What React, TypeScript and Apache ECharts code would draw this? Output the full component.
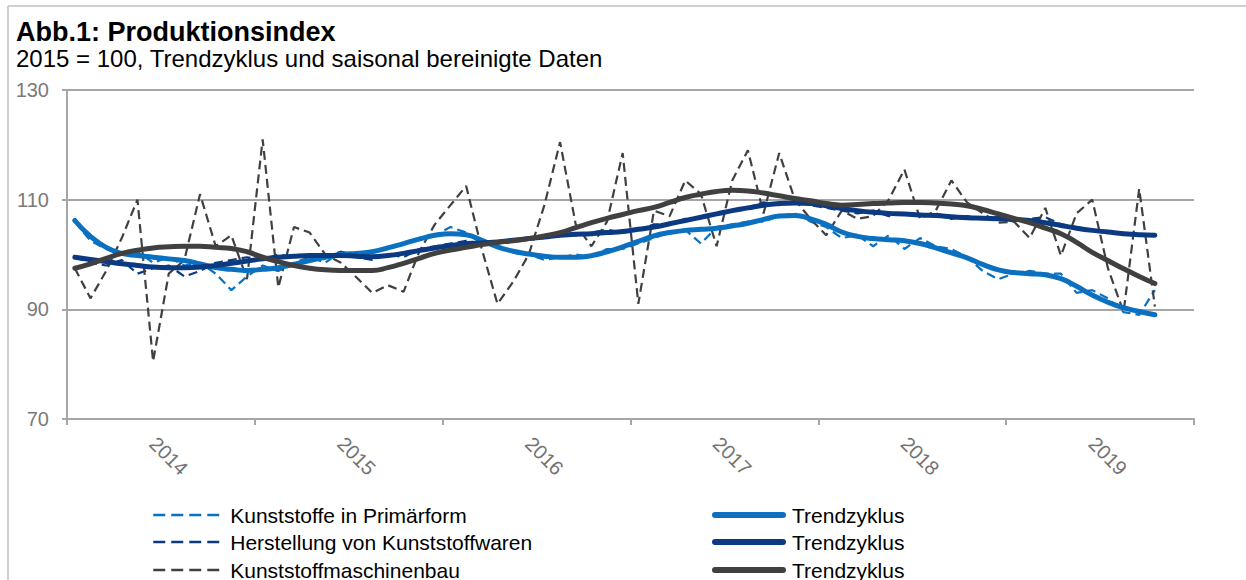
import React, { useEffect, useRef } from "react";
import * as echarts from "echarts";

const years = ["2014", "2015", "2016", "2017", "2018", "2019"];
const monthNums = ["01", "02", "03", "04", "05", "06", "07", "08", "09", "10", "11", "12"];
const months: string[] = [];
years.forEach((y) => monthNums.forEach((m) => months.push(`${y}-${m}`)));

const yTicks = { min: 70, max: 130, interval: 20 };

// Kunststoffe in Primärform (saisonal bereinigt)
const primaer = [
  106, 102.5, 101, 100, 100.5, 98.5, 99.5, 98, 98.5, 96.5, 93.5, 96,
  98, 97, 98.5, 99.5, 98.5, 100.5, 100, 100.5, 101, 102, 103, 103.5,
  105, 104, 102, 101.5, 100.5, 100, 99, 99.5, 100, 99.5, 101, 101,
  102, 103, 104, 104.5, 102, 105, 105.5, 106, 106, 107, 107.5, 106,
  105, 103, 103.5, 101.5, 103.5, 101, 103, 101.5, 101, 99.5, 97, 95.5,
  96.5, 97, 96.5, 96.5, 93, 93.5, 92, 89.5, 89, 93.5,
];
// Herstellung von Kunststoffwaren (saisonal bereinigt)
const herstellung = [
  99.5, 98.5, 98, 99, 96.5, 97.5, 98, 96, 97, 98.5, 99, 99.5,
  99, 100, 99.5, 100, 99.5, 100.5, 99.5, 99, 100, 99.5, 101, 101.5,
  102, 102.5, 102, 102.5, 102.5, 103, 103, 104, 103.5, 104, 104.5, 104,
  104.5, 105.5, 105.5, 106.5, 106.5, 107.5, 108, 108.5, 109.5, 109, 109.8, 109,
  108.5, 108, 107.5, 108, 107, 107.5, 107, 107.5, 106.5, 107, 106.5, 106.8,
  106, 106.5, 106.8, 105.5, 105, 104.5, 104, 104, 103.5, 103.5,
];
// Kunststoffmaschinenbau (saisonal bereinigt)
const maschinenbau = [
  97.5, 92, 97, 103, 110, 80.5, 96.5, 99, 111, 101.5, 103.5, 95.5,
  121, 94, 105, 104, 100, 98.5, 95.8, 93, 94.4, 93.2, 100.5, 105.5,
  109, 112.5, 101, 91, 95, 100, 109, 120.5, 105.5, 101.5, 106, 118.5,
  91, 108, 107, 113.5, 111, 101.5, 113.5, 119, 107.5, 118.5, 110, 106.5,
  103.5, 108, 106.5, 107, 110, 115.5, 106.5, 108, 113.5, 109.5, 107.5, 105.8,
  106, 103, 108.5, 99.8, 107.5, 110, 97.5, 89.5, 112, 90.5,
];
// Trendzyklen
const primaerTrend = [
  106.2, 103.3, 101.3, 100.2, 99.8, 99.5, 99.2, 98.9, 98.3, 97.6, 97.3, 97.1,
  97.3, 97.6, 98.2, 98.9, 99.5, 100.0, 100.2, 100.5, 101.2, 102.0, 102.8, 103.5,
  103.8, 103.6, 102.6, 101.4, 100.6, 100.1, 99.7, 99.5, 99.5, 99.8, 100.5, 101.4,
  102.4, 103.4, 104.0, 104.4, 104.6, 104.8, 105.2, 105.7, 106.4, 107.0, 107.1, 106.5,
  105.5, 104.1, 103.3, 102.9, 102.7, 102.5, 102.0, 101.2, 100.3, 99.4, 98.2, 97.2,
  96.7, 96.5, 96.3, 95.6, 94.2, 92.6, 91.3, 90.3, 89.6, 89.0,
];
const herstellungTrend = [
  99.5, 99.1, 98.7, 98.3, 98.0, 97.7, 97.6, 97.6, 97.7, 98.0, 98.4, 98.8,
  99.2, 99.5, 99.7, 99.8, 99.8, 99.8, 99.7, 99.6, 99.8, 100.2, 100.7, 101.2,
  101.6, 102.0, 102.1, 102.3, 102.6, 102.9, 103.2, 103.5, 103.7, 103.8, 104.0, 104.2,
  104.6, 105.0, 105.6, 106.2, 106.8, 107.4, 108.0, 108.5, 109.0, 109.3, 109.4, 109.3,
  108.9, 108.4, 108.0, 107.7, 107.5, 107.4, 107.2, 107.1, 106.9, 106.7, 106.6, 106.5,
  106.4, 106.2, 105.8, 105.3, 104.8, 104.4, 104.1, 103.8, 103.6, 103.5,
];
const maschinenbauTrend = [
  97.5, 98.3, 99.3, 100.2, 100.8, 101.2, 101.4, 101.5, 101.5, 101.3, 101.1, 100.5,
  99.5, 98.7, 98.0, 97.5, 97.2, 97.1, 97.1, 97.1, 97.6, 98.4, 99.3, 100.2,
  100.8, 101.3, 101.8, 102.2, 102.5, 102.9, 103.4, 104.0, 104.9, 105.8, 106.6, 107.3,
  108.0, 108.6, 109.5, 110.4, 111.0, 111.5, 111.7, 111.6, 111.2, 110.7, 110.2, 109.8,
  109.3, 109.0, 109.1, 109.3, 109.4, 109.5, 109.5, 109.4, 109.2, 108.9, 108.2, 107.4,
  106.6, 105.8, 104.8, 103.8, 102.2, 100.4, 98.9, 97.4, 96.0, 94.7,
];

const dashedNames = ["Kunststoffe in Primärform", "Herstellung von Kunststoffwaren", "Kunststoffmaschinenbau"];
const trendNames = ["Trendzyklus", "Trendzyklus ", "Trendzyklus  "];

const LIGHT = "#0a70bf";
const NAVY = "#0b3a82";
const GREY = "#404040";
const AXIS = "#a6a6a6";
const FONT = "'Liberation Sans', Arial, Helvetica, sans-serif";

export default function App() {
  const ref = useRef<HTMLDivElement>(null);
  useEffect(() => {
    if (!ref.current) return;
    const chart = echarts.init(ref.current, null, { renderer: "svg" });
    const dashed = (name: string, data: number[], color: string) => ({
      name,
      type: "line",
      data,
      symbol: "none",
      smooth: false,
      itemStyle: { color },
      lineStyle: { color, width: 2.2, type: [9, 5] },
    });
    const trend = (name: string, data: number[], color: string) => ({
      name,
      type: "line",
      data,
      symbol: "none",
      smooth: 0.5,
      itemStyle: { color },
      lineStyle: { color, width: 5, cap: "round" },
    });
    const rowTops = [504, 531, 559];
    const legendItem = (name: string, left: number, top: number, solid: boolean) => ({
      orient: "horizontal",
      left,
      top,
      itemWidth: 68,
      itemHeight: 14,
      padding: 0,
      selectedMode: false,
      data: [name],
      itemStyle: { opacity: 0 },
      lineStyle: solid ? { width: 6, cap: "round" } : { width: 2.5, type: [12, 6] },
      formatter: (n: string) => n.trim(),
      textStyle: { fontFamily: FONT, fontSize: 21, color: "#000", lineHeight: 22, padding: [0, 0, 0, 4] },
    });
    chart.setOption({
      animation: false,
      textStyle: { fontFamily: FONT },
      title: [
        {
          text: "Abb.1: Produktionsindex",
          left: 16,
          top: 18,
          padding: 0,
          textStyle: { fontFamily: FONT, fontSize: 27, fontWeight: "bold", color: "#000" },
        },
        {
          text: "2015 = 100, Trendzyklus und saisonal bereinigte Daten",
          left: 16,
          top: 46,
          padding: 0,
          textStyle: { fontFamily: FONT, fontSize: 24, fontWeight: "normal", color: "#000" },
        },
      ],
      graphic: [
        { type: "line", shape: { x1: 8, y1: 6, x2: 1246, y2: 6 }, style: { stroke: "#cfcfcf", lineWidth: 2 } },
        { type: "line", shape: { x1: 8, y1: 6, x2: 8, y2: 580 }, style: { stroke: "#cfcfcf", lineWidth: 2 } },
      ],
      grid: { left: 67, right: 52, top: 90, bottom: 161, containLabel: false },
      xAxis: {
        type: "category",
        data: months,
        boundaryGap: true,
        axisLine: { lineStyle: { color: AXIS, width: 2 } },
        axisTick: { show: true, interval: (i: number) => i % 12 === 0, length: 6, lineStyle: { color: AXIS, width: 2 } },
        axisLabel: {
          interval: (i: number) => i % 12 === 6,
          rotate: -45,
          align: "center",
          verticalAlign: "middle",
          margin: 37,
          color: "#737373",
          fontSize: 20,
          fontFamily: FONT,
          formatter: (v: string) => v.slice(0, 4),
        },
        splitLine: { show: false },
      },
      yAxis: {
        type: "value",
        min: yTicks.min,
        max: yTicks.max,
        interval: yTicks.interval,
        axisLine: { show: true, lineStyle: { color: AXIS, width: 2 } },
        axisTick: { show: true, length: 5, lineStyle: { color: AXIS, width: 2 } },
        axisLabel: { margin: 18, color: "#7a7a7a", fontSize: 20, fontFamily: FONT },
        splitLine: { show: true, lineStyle: { color: AXIS, width: 2 } },
      },
      legend: [
        ...dashedNames.map((n, i) => legendItem(n, 152, rowTops[i], false)),
        ...trendNames.map((n, i) => legendItem(n, 712, rowTops[i], true)),
      ],
      series: [
        dashed(dashedNames[0], primaer, LIGHT),
        dashed(dashedNames[1], herstellung, NAVY),
        dashed(dashedNames[2], maschinenbau, GREY),
        trend(trendNames[0], primaerTrend, LIGHT),
        trend(trendNames[1], herstellungTrend, NAVY),
        trend(trendNames[2], maschinenbauTrend, GREY),
      ],
    });
    return () => chart.dispose();
  }, []);
  return (
    <div
      ref={ref}
      style={{ position: "absolute", left: 0, top: 0, width: 1246, height: 580, background: "#fff" }}
    />
  );
}
